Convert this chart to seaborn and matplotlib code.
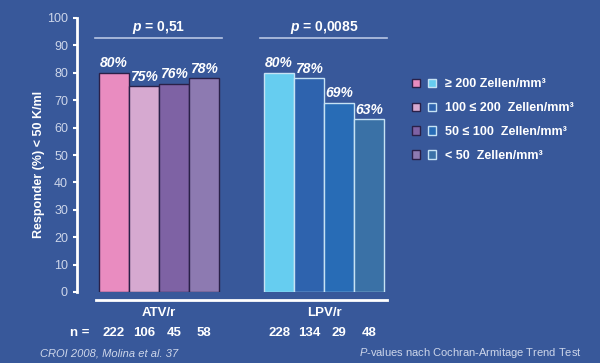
#!/usr/bin/env python3

import pandas as pd
import seaborn as sns
import matplotlib.pyplot as plt
from matplotlib.patches import Patch
from matplotlib.legend_handler import HandlerTuple

BG = "#38589a"
FG = "white"
TICK = "#cdd6ea"

groups = ["ATV/r", "LPV/r"]
strata = ["≥ 200 Zellen/mm³", "100 ≤ 200  Zellen/mm³", "50 ≤ 100  Zellen/mm³", "< 50  Zellen/mm³"]
atv_values = [80, 75, 76, 78]
lpv_values = [80, 78, 69, 63]
atv_n = [222, 106, 45, 58]
lpv_n = [228, 134, 29, 48]
p_values = ["0,51", "0,0085"]

atv_colors = ["#e98cc0", "#d6a9d0", "#7e62a4", "#8d7ab1"]
lpv_colors = ["#66cdf0", "#2e63ae", "#286cb6", "#3a71a6"]
atv_edge = "#2a2048"
lpv_edge = "#c6e2f4"

GAP = 5.5  # distance between first bars of the two groups

rows = []
for g, (vals, ns) in enumerate([(atv_values, atv_n), (lpv_values, lpv_n)]):
    for i, (v, n) in enumerate(zip(vals, ns)):
        rows.append({"group": groups[g], "stratum": strata[i], "pos": g * GAP + i, "value": v, "n": n})
df = pd.DataFrame(rows)

plt.rcParams["font.family"] = ["Liberation Sans", "DejaVu Sans"]
plt.rcParams["mathtext.fontset"] = "custom"
plt.rcParams["mathtext.it"] = "Liberation Sans:italic"
plt.rcParams["mathtext.bfit"] = "Liberation Sans:italic:bold"
plt.rcParams["mathtext.bf"] = "Liberation Sans:bold"

fig = plt.figure(figsize=(6, 3.63), dpi=100, facecolor=BG)
ax = fig.add_axes([77 / 600, 71 / 363, 323 / 600, 274 / 363])
ax.set_facecolor(BG)

colors = atv_colors + lpv_colors
sns.barplot(df, x="pos", y="value", native_scale=True, width=1.0, ax=ax,
            hue="pos", palette=colors, legend=False, saturation=1)
for k, bar in enumerate(ax.patches):
    bar.set_edgecolor(atv_edge if k < 4 else lpv_edge)
    bar.set_linewidth(1.0)

ax.set_xlim(-1.233, 9.533)
ax.set_ylim(0, 100)
ax.set_yticks(range(0, 101, 10))
ax.tick_params(axis="y", colors=FG, labelcolor=TICK, labelsize=9, length=3, width=1.5)
ax.set_xticks([])
for s in ["top", "right", "bottom"]:
    ax.spines[s].set_visible(False)
ax.spines["left"].set_color(FG)
ax.spines["left"].set_linewidth(2)
ax.set_xlabel("")
ax.set_ylabel("Responder (%) < 50 K/ml", color=FG, fontsize=9, fontweight="bold")
ax.yaxis.set_label_coords(-0.1, 0.467)

# value labels
for _, r in df.iterrows():
    ax.text(r["pos"], r["value"] + 1, f"{r['value']}%", ha="center", va="bottom",
            color=FG, fontsize=10, fontweight="bold", fontstyle="italic")

# bottom baseline, group labels, n row
ax.plot([-0.6, 9.1], [-2.9, -2.9], color=FG, lw=2, clip_on=False)
for g, name in enumerate(groups):
    center = g * GAP + 1.5
    ax.text(center, -7.8, name, ha="center", va="center", color=FG, fontsize=9.5, fontweight="bold")
    ax.plot([g * GAP - 0.63, g * GAP + 3.6], [92.7, 92.7], color="#b8c6e4", lw=1.2, clip_on=False)
    ax.text(center, 96.6, "$\\mathbfit{p}$ = " + p_values[g], ha="center", va="center",
            color=FG, fontsize=10, fontweight="bold")
for _, r in df.iterrows():
    ax.text(r["pos"], -14.8, str(r["n"]), ha="center", va="center", color=FG, fontsize=9.5, fontweight="bold")
ax.text(-1.15, -14.8, "n =", ha="center", va="center", color=FG, fontsize=9.5, fontweight="bold")

# legend: paired squares
handles = []
for i in range(4):
    handles.append((Patch(facecolor=atv_colors[i], edgecolor=atv_edge),
                    Patch(facecolor=lpv_colors[i], edgecolor=lpv_edge)))
leg = fig.legend(handles, strata, handler_map={tuple: HandlerTuple(ndivide=None, pad=0.6)},
                 loc="upper left", bbox_to_anchor=(401 / 600, 1 - 67 / 363), frameon=False,
                 handlelength=1.9, handleheight=0.65, labelspacing=0.95, handletextpad=0.7,
                 prop={"size": 9, "weight": "bold"})
for t in leg.get_texts():
    t.set_color(FG)

fig.text(40 / 600, 1 - 353 / 363, "CROI 2008, Molina et al. 37", color=TICK, fontsize=8,
         fontstyle="italic", va="center", ha="left")
fig.text(582 / 600, 1 - 353 / 363, "$\\it{P}$-values nach Cochran-Armitage Trend Test", color=TICK,
         fontsize=8, va="center", ha="right")

fig.savefig("out.png", dpi=100, facecolor=BG)
